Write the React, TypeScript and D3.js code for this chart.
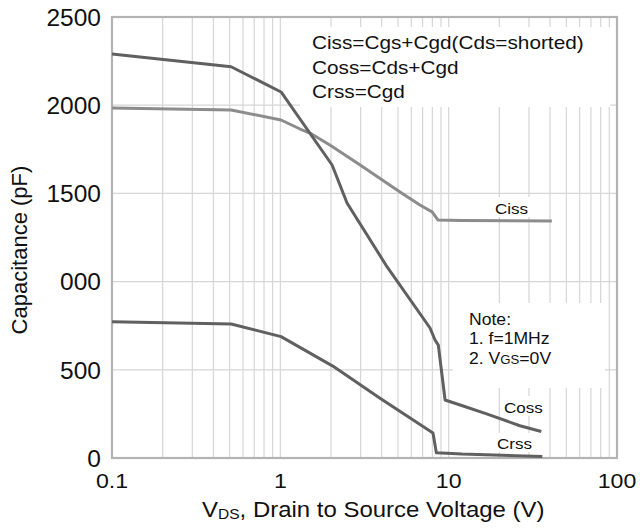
import React from "react";
import * as d3 from "d3";

// ---- data ----
const cissV = [0.1, 0.51, 1.01, 1.31, 1.5, 2.0, 2.98, 5.14, 6.75, 7.97, 8.65, 12, 41];
const cissC = [1984, 1973, 1916, 1865, 1842, 1770, 1661, 1508, 1434, 1395, 1349, 1346, 1344];

const cossV = [0.1, 0.51, 1.01, 2.03, 2.49, 4.31, 7.75, 8.3, 8.68, 9.52, 12.2, 16.8, 26.5, 35.5];
const cossC = [2290, 2218, 2075, 1661, 1446, 1083, 737, 669, 640, 329, 295, 250, 183, 150];

const crssV = [0.1, 0.51, 1.01, 2.05, 3.89, 8.07, 8.45, 12, 36];
const crssC = [773, 760, 688, 521, 340, 142, 30, 22, 8];

const yTickValues = [0, 500, 1000, 1500, 2000, 2500];
const yTickLabels = ["0", "500", "000", "1500", "2000", "2500"];
const xTickValues = [0.1, 1, 10, 100];
const xTickLabels = ["0.1", "1", "10", "100"];
const legendLines = ["Ciss=Cgs+Cgd(Cds=shorted)", "Coss=Cds+Cgd", "Crss=Cgd"];

const FONT = "'Liberation Sans', Arial, sans-serif";

function T({ x, y, size, sx = 1, anchor = "start", children, fill = "#111" }: any) {
  return (
    <g transform={`translate(${x},${y}) scale(${sx},1)`}>
      <text x={0} y={0} fontSize={size} textAnchor={anchor} fontFamily={FONT} fill={fill}>
        {children}
      </text>
    </g>
  );
}

export default function App() {
  const W = 640, H = 529;
  const left = 112, right = 617, top = 17, bottom = 458;
  const x = d3.scaleLog().domain([0.1, 100]).range([left, right]);
  const y = d3.scaleLinear().domain([0, 2500]).range([bottom, top]);

  const minor: number[] = [];
  [0.1, 1, 10].forEach((d) => {
    for (let k = 2; k <= 9; k++) minor.push(d * k);
  });
  minor.push(1, 10);

  const line = d3
    .line<[number, number]>()
    .x((d) => x(d[0]))
    .y((d) => y(d[1]))
    .curve(d3.curveLinear);

  const zip = (a: number[], b: number[]) => a.map((v, i) => [v, b[i]] as [number, number]);

  return (
    <svg width={W} height={H} style={{ position: "absolute", left: 0, top: 0, background: "#fff" }}>
      <rect x={0} y={0} width={W} height={H} fill="#fff" />
      {/* grid */}
      {minor.map((v, i) => (
        <line key={"v" + i} x1={x(v)} x2={x(v)} y1={top} y2={bottom} stroke="#d6d6d6" strokeWidth={1.2} />
      ))}
      {[500, 1000, 1500, 2000].map((v) => (
        <line key={"h" + v} x1={left} x2={right} y1={y(v)} y2={y(v)} stroke="#d6d6d6" strokeWidth={1.2} />
      ))}
      {/* white boxes */}
      <rect x={300} y={27} width={310} height={80} fill="#fff" />
      <rect x={453} y={303} width={152} height={85} fill="#fff" />
      <rect x={491} y={197} width={40} height={20} fill="#fff" />
      <rect x={500} y={396} width={48} height={20} fill="#fff" />
      <rect x={494} y={433} width={42} height={19} fill="#fff" />
      {/* border */}
      <rect x={left} y={top} width={right - left} height={bottom - top} fill="none" stroke="#b3b3b3" strokeWidth={2.2} />

      {/* curves */}
      <path d={line(zip(cissV, cissC)) || ""} fill="none" stroke="#8c8c8c" strokeWidth={3} strokeLinejoin="round" />
      <path d={line(zip(cossV, cossC)) || ""} fill="none" stroke="#606060" strokeWidth={3} strokeLinejoin="round" />
      <path d={line(zip(crssV, crssC)) || ""} fill="none" stroke="#606060" strokeWidth={3} strokeLinejoin="round" />

      {/* y ticks */}
      {yTickValues.map((v, i) => (
        <T key={"yt" + v} x={101} y={y(v) + 8.8} size={24.5} anchor="end">
          {yTickLabels[i]}
        </T>
      ))}
      {/* x ticks */}
      {xTickValues.map((v, i) => (
        <T key={"xt" + v} x={x(v)} y={488} size={20.5} sx={1.13} anchor="middle">
          {xTickLabels[i]}
        </T>
      ))}

      {/* axis titles */}
      <g transform={`translate(27,250) rotate(-90)`}>
        <text x={0} y={0} fontSize={22} textAnchor="middle" fontFamily={FONT} fill="#111">
          Capacitance (pF)
        </text>
      </g>
      <g transform={`translate(202,517) scale(1.11,1)`}>
        <text x={0} y={0} fontSize={21.6} fontFamily={FONT} fill="#111">
          V<tspan fontSize={14} dy={2}>DS</tspan>
          <tspan dy={-2}>, Drain to Source Voltage (V)</tspan>
        </text>
      </g>

      {/* legend */}
      {legendLines.map((s, i) => (
        <T key={"lg" + i} x={312} y={49 + i * 24.5} size={17.6} sx={1.18}>
          {s}
        </T>
      ))}

      {/* note */}
      <T x={469} y={325} size={16} sx={1.1}>Note:</T>
      <T x={469} y={344} size={16} sx={1.1}>1. f=1MHz</T>
      <g transform={`translate(469,364) scale(1.1,1)`}>
        <text x={0} y={0} fontSize={16} fontFamily={FONT} fill="#111">
          2. V<tspan fontSize={12}>GS</tspan>=0V
        </text>
      </g>

      {/* curve labels */}
      <T x={495} y={214} size={15.5} sx={1.1}>Ciss</T>
      <T x={504} y={413} size={15.5} sx={1.1}>Coss</T>
      <T x={497} y={449} size={15.5} sx={1.1}>Crss</T>
    </svg>
  );
}
